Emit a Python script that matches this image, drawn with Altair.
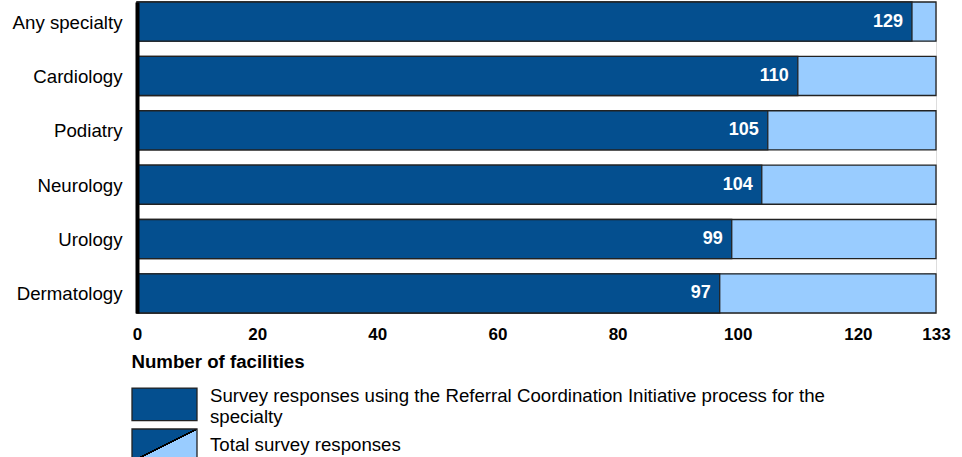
import altair as alt
import pandas as pd

specialties = ["Any specialty", "Cardiology", "Podiatry", "Neurology", "Urology", "Dermatology"]
used_values = [129, 110, 105, 104, 99, 97]
total_values = [133, 133, 133, 133, 133, 133]
x_ticks = [0, 20, 40, 60, 80, 100, 120, 133]
used_name = "Survey responses using the Referral Coordination Initiative process for the specialty"
total_name = "Total survey responses"

DARK = "#044f8f"
LIGHT = "#99ccff"
EDGE = "#222222"
FONT = "Liberation Sans"

df_total = pd.DataFrame({"specialty": specialties, "value": total_values,
                         "series": [total_name] * len(specialties)})
df_used = pd.DataFrame({"specialty": specialties, "value": used_values,
                        "series": [used_name] * len(specialties)})

gradient_expr = (
    "{gradient: 'linear', x1: 0, y1: 0, x2: 1, y2: 1, stops: ["
    "{offset: 0, color: '" + DARK + "'}, {offset: 0.488, color: '" + DARK + "'},"
    "{offset: 0.488, color: '#000000'}, {offset: 0.512, color: '#000000'},"
    "{offset: 0.512, color: '" + LIGHT + "'}, {offset: 1, color: '" + LIGHT + "'}]}"
)

label_expr_used = (
    "['Survey responses using the Referral Coordination Initiative process for the', 'specialty']"
)

common_legend = dict(
    title=None, orient="none", direction="vertical",
    symbolSize=4225, symbolStrokeColor=EDGE, symbolStrokeWidth=1.3, symbolOpacity=1,
    labelFont=FONT, labelFontSize=18.67, labelColor="#000000", labelOffset=12,
    labelLimit=800, labelBaseline="middle", padding=0,
)

y_enc = alt.Y(
    "specialty:N",
    sort=specialties,
    scale=alt.Scale(paddingInner=0.28, paddingOuter=0),
    axis=alt.Axis(
        title=None, ticks=False, domain=True, domainColor="#000000", domainWidth=4,
        labelFont=FONT, labelFontSize=18.67, labelColor="#000000", labelPadding=15,
        labelOffset=1, zindex=1,
    ),
)
x_enc = alt.X(
    "value:Q",
    scale=alt.Scale(domain=[0, 133], nice=False),
    axis=alt.Axis(
        values=x_ticks, domain=False, ticks=False, grid=False,
        labelFont=FONT, labelFontSize=17, labelFontWeight="bold", labelColor="#000000",
        labelPadding=13, labelFlush=False,
        title="Number of facilities", titleFont=FONT, titleFontSize=18.67, titleFontWeight="bold",
        titleColor="#000000", titleAnchor="start", titleAlign="left", titleX=-6, titlePadding=10,
    ),
)

# layer that only provides the "Total survey responses" legend entry (covered by the light bars)
legend_total = alt.Chart(df_total).mark_bar().encode(
    x=x_enc,
    y=y_enc,
    fill=alt.Fill(
        "series:N",
        scale=alt.Scale(domain=[total_name], range=[alt.ExprRef(gradient_expr)]),
        legend=alt.Legend(legendX=-6, legendY=409.75, symbolType="M-1,-0.5H1V0.5H-1Z",
                          **common_legend),
    ),
)

total_bars = alt.Chart(df_total).mark_bar(stroke=EDGE, strokeWidth=1.3, fill=LIGHT).encode(
    x=alt.X("value:Q"),
    y=alt.Y("specialty:N", sort=specialties),
)

used_bars = alt.Chart(df_used).mark_bar(stroke=EDGE, strokeWidth=1.3).encode(
    x=alt.X("value:Q"),
    y=alt.Y("specialty:N", sort=specialties),
    color=alt.Color(
        "series:N",
        scale=alt.Scale(domain=[used_name], range=[DARK]),
        legend=alt.Legend(legendX=-6, legendY=360.5, symbolType="M-1,-0.245H1V0.755H-1Z",
                          labelExpr=label_expr_used, **common_legend),
    ),
)

labels = alt.Chart(df_used).mark_text(
    align="right", baseline="middle", dx=-9, color="white",
    font=FONT, fontSize=18, fontWeight="bold",
).encode(
    x=alt.X("value:Q"),
    y=alt.Y("specialty:N", sort=specialties),
    text=alt.Text("value:Q"),
)

chart = alt.layer(legend_total, total_bars, used_bars, labels).properties(
    width=799, height=311,
    autosize=alt.AutoSizeParams(type="none"),
    padding={"left": 137, "top": 2, "right": 26, "bottom": 144},
).resolve_scale(color="independent", fill="independent").configure_view(stroke=None).configure(
    background="white",
    style={"guide-label": {"lineHeight": 21}},
)

chart.save("out.html", embed_options={"renderer": "svg", "actions": False})
